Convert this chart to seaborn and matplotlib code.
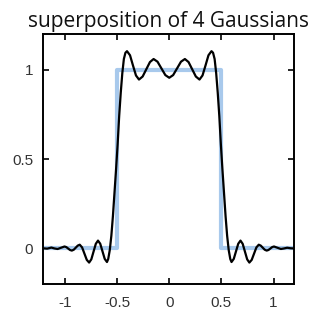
import seaborn as sns
import matplotlib.pyplot as plt
import pandas as pd

# rectangle function (target)
rect_x = [-1.25, -0.5, -0.5, 0.5, 0.5, 1.25]
rect_y = [0, 0, 1, 1, 0, 0]

# superposition of 4 Gaussians
curve_x = [-1.21, -1.17, -1.13, -1.10, -1.07, -1.037, -1.004, -0.9865, -0.969, -0.9515,
           -0.934, -0.915, -0.896, -0.877, -0.858, -0.8355, -0.813, -0.7905, -0.768, -0.747,
           -0.7255, -0.704, -0.683, -0.6615, -0.640, -0.6185, -0.597, -0.585, -0.570, -0.555,
           -0.540, -0.525, -0.510, -0.495, -0.480, -0.465, -0.450, -0.435, -0.420, -0.405,
           -0.376, -0.348, -0.319, -0.290, -0.255, -0.220, -0.185, -0.150, -0.1125, -0.075,
           -0.0375, 0.0, 0.0375, 0.075, 0.1125, 0.150, 0.185, 0.220, 0.255, 0.290,
           0.319, 0.348, 0.376, 0.405, 0.420, 0.435, 0.450, 0.465, 0.480, 0.495,
           0.510, 0.525, 0.540, 0.555, 0.570, 0.585, 0.597, 0.6185, 0.640, 0.6615,
           0.683, 0.704, 0.7255, 0.747, 0.768, 0.7905, 0.813, 0.8355, 0.858, 0.877,
           0.896, 0.915, 0.934, 0.9515, 0.969, 0.9865, 1.004, 1.037, 1.07, 1.10,
           1.13, 1.165, 1.20]
curve_y = [0.0, -0.002, 0.004, -0.001, -0.004, 0.003, 0.010, 0.0065, -0.0015, -0.0095,
           -0.013, -0.008, 0.0035, 0.015, 0.020, 0.005, -0.030, -0.065, -0.080, -0.062,
           -0.0185, 0.025, 0.043, 0.0255, -0.017, -0.0595, -0.077, -0.060, -0.010, 0.070,
           0.180, 0.310, 0.440, 0.580, 0.740, 0.870, 0.980, 1.060, 1.095, 1.104,
           1.081, 1.0245, 0.968, 0.945, 0.962, 1.0025, 1.043, 1.060, 1.045, 1.0075,
           0.970, 0.955, 0.970, 1.0075, 1.045, 1.060, 1.043, 1.0025, 0.962, 0.945,
           0.968, 1.0245, 1.081, 1.104, 1.095, 1.060, 0.980, 0.870, 0.740, 0.580,
           0.440, 0.310, 0.180, 0.070, -0.010, -0.060, -0.077, -0.0595, -0.017, 0.0255,
           0.043, 0.025, -0.0185, -0.062, -0.080, -0.065, -0.030, 0.005, 0.020, 0.015,
           0.0035, -0.008, -0.013, -0.0095, -0.0015, 0.0065, 0.010, 0.003, -0.004, -0.001,
           0.003, 0.0, -0.001]

x_ticks = [-1, -0.5, 0, 0.5, 1]
x_labels = ["-1", "-0.5", "0", "0.5", "1"]
y_ticks = [0, 0.5, 1]
y_labels = ["0", "0.5", "1"]

rect_df = pd.DataFrame({"x": rect_x, "y": rect_y})
curve_df = pd.DataFrame({"x": curve_x, "y": curve_y})

sns.set_theme(style="white")
plt.rcParams["font.family"] = ["Liberation Sans", "DejaVu Sans"]

fig = plt.figure(figsize=(3.14, 3.24), dpi=100)
ax = fig.add_axes([0.137, 0.1235, 0.799, 0.7715])

sns.lineplot(data=rect_df, x="x", y="y", sort=False, estimator=None,
             color="#a8c9ec", linewidth=3.0, ax=ax)
sns.lineplot(data=curve_df, x="x", y="y", sort=False, estimator=None,
             color="black", linewidth=1.6, ax=ax)

ax.set_xlim(-1.21, 1.195)
ax.set_ylim(-0.2, 1.2)
ax.set_xticks(x_ticks)
ax.set_xticklabels(x_labels)
ax.set_yticks(y_ticks)
ax.set_yticklabels(y_labels)
ax.set_xlabel("")
ax.set_ylabel("")

for s in ax.spines.values():
    s.set_color("black")
    s.set_linewidth(1.4)
ax.tick_params(direction="in", length=4.5, width=1.2, color="black",
               top=True, right=True, bottom=True, left=True,
               labelsize=11, labelcolor="#333333")
ax.tick_params(axis="x", pad=9)
ax.tick_params(axis="y", pad=7)

ax.set_title("superposition of 4 Gaussians", fontsize=15, color="#111111",
             family=["Open Sans", "DejaVu Sans"], pad=5)

fig.savefig("out.png", dpi=100)
